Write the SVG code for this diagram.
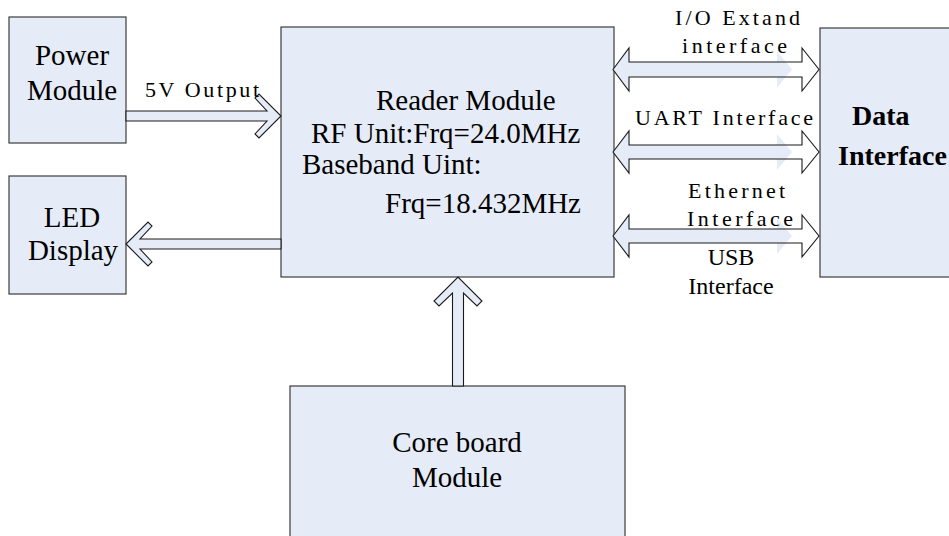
<svg xmlns="http://www.w3.org/2000/svg" width="949" height="536" viewBox="0 0 949 536">
<defs>
<style>
.box{fill:#e6ecf7;stroke:#3c3c3c;stroke-width:1.2}
.arr{fill:#e6ecf7;stroke:#1a1a1a;stroke-width:1.1;stroke-linejoin:miter}
.dbl{fill:none;stroke:#1a1a1a;stroke-width:1.1}
.dfill{fill:#e6ecf7}
.t{font-family:"Liberation Serif","Times New Roman",serif;font-size:29px;fill:#000}
.b{font-weight:bold;font-size:28px}
.m{font-family:"Liberation Serif","Times New Roman",serif;font-size:22px;fill:#000}
.s{font-family:"Liberation Serif","Times New Roman",serif;font-size:24px;fill:#000}
</style>
</defs>
<rect width="949" height="536" fill="#ffffff"/>
<g id="power"><rect class="box" x="9" y="17" width="117" height="126"/><text class="t" x="72" y="65" text-anchor="middle">Power</text><text class="t" x="72" y="100" text-anchor="middle">Module</text></g>
<g id="led"><rect class="box" x="9" y="176" width="117" height="118"/><text class="t" x="72" y="227" text-anchor="middle">LED</text><text class="t" x="73" y="260" text-anchor="middle">Display</text></g>
<g id="reader"><rect class="box" x="281" y="27" width="333" height="250"/><text class="t" x="376" y="110">Reader Module</text><text class="t" x="311" y="143">RF Unit:Frq=24.0MHz</text><text class="t" x="302" y="174">Baseband Uint:</text><text class="t" x="385" y="213">Frq=18.432MHz</text></g>
<g id="data"><rect class="box" x="820" y="28" width="140" height="249"/><text class="t b" x="852" y="125">Data</text><text class="t b" x="838" y="165">Interface</text></g>
<g id="core"><rect class="box" x="290" y="386" width="335" height="160"/><text class="t" x="457" y="452" text-anchor="middle">Core board</text><text class="t" x="457" y="487" text-anchor="middle">Module</text></g>
<g id="connectors">
<polygon class="arr" points="126,111 267,111 255,98 259,94 281,116 259,138 255,134 267,121 126,121"/>
<polygon class="arr" points="281,239 140,239 152,226 148,222 126,244 148,266 152,262 140,249 281,249"/>
<polygon class="arr" points="452.5,386 452.5,293 439,306 434,301 458,277 482,301 477,306 463.5,293 463.5,386"/>
<polygon class="dfill" points="613,69.5 629,48 629,62 777,62 777,51 792,69.5 777,88 777,77 629,77 629,91"/>
<polygon class="dbl" points="613,69.5 629,48 629,62 802,62 802,48 819,69.5 802,91 802,77 629,77 629,91"/>
<polygon class="dfill" points="613,152 629,131 629,145 777,145 777,134 792,152 777,170 777,159 629,159 629,173"/>
<polygon class="dbl" points="613,152 629,131 629,145 802,145 802,131 819,152 802,173 802,159 629,159 629,173"/>
<polygon class="dfill" points="613,236 629,215 629,229 777,229 777,218 792,236 777,254 777,243 629,243 629,257"/>
<polygon class="dbl" points="613,236 629,215 629,229 802,229 802,215 819,236 802,257 802,243 629,243 629,257"/>
<text class="m" x="145" y="97" textLength="114" lengthAdjust="spacing">5V Output</text>
<text class="m" x="675" y="25" textLength="125" lengthAdjust="spacing">I/O Extand</text>
<text class="m" x="682" y="53" textLength="105" lengthAdjust="spacing">interface</text>
<text class="m" x="635" y="125" textLength="178" lengthAdjust="spacing">UART Interface</text>
<text class="m" x="688" y="198" textLength="97" lengthAdjust="spacing">Ethernet</text>
<text class="m" x="687" y="226" textLength="106" lengthAdjust="spacing">Interface</text>
<text class="s" x="731" y="265" text-anchor="middle">USB</text>
<text class="s" x="731" y="294" text-anchor="middle">Interface</text>
</g>
</svg>
